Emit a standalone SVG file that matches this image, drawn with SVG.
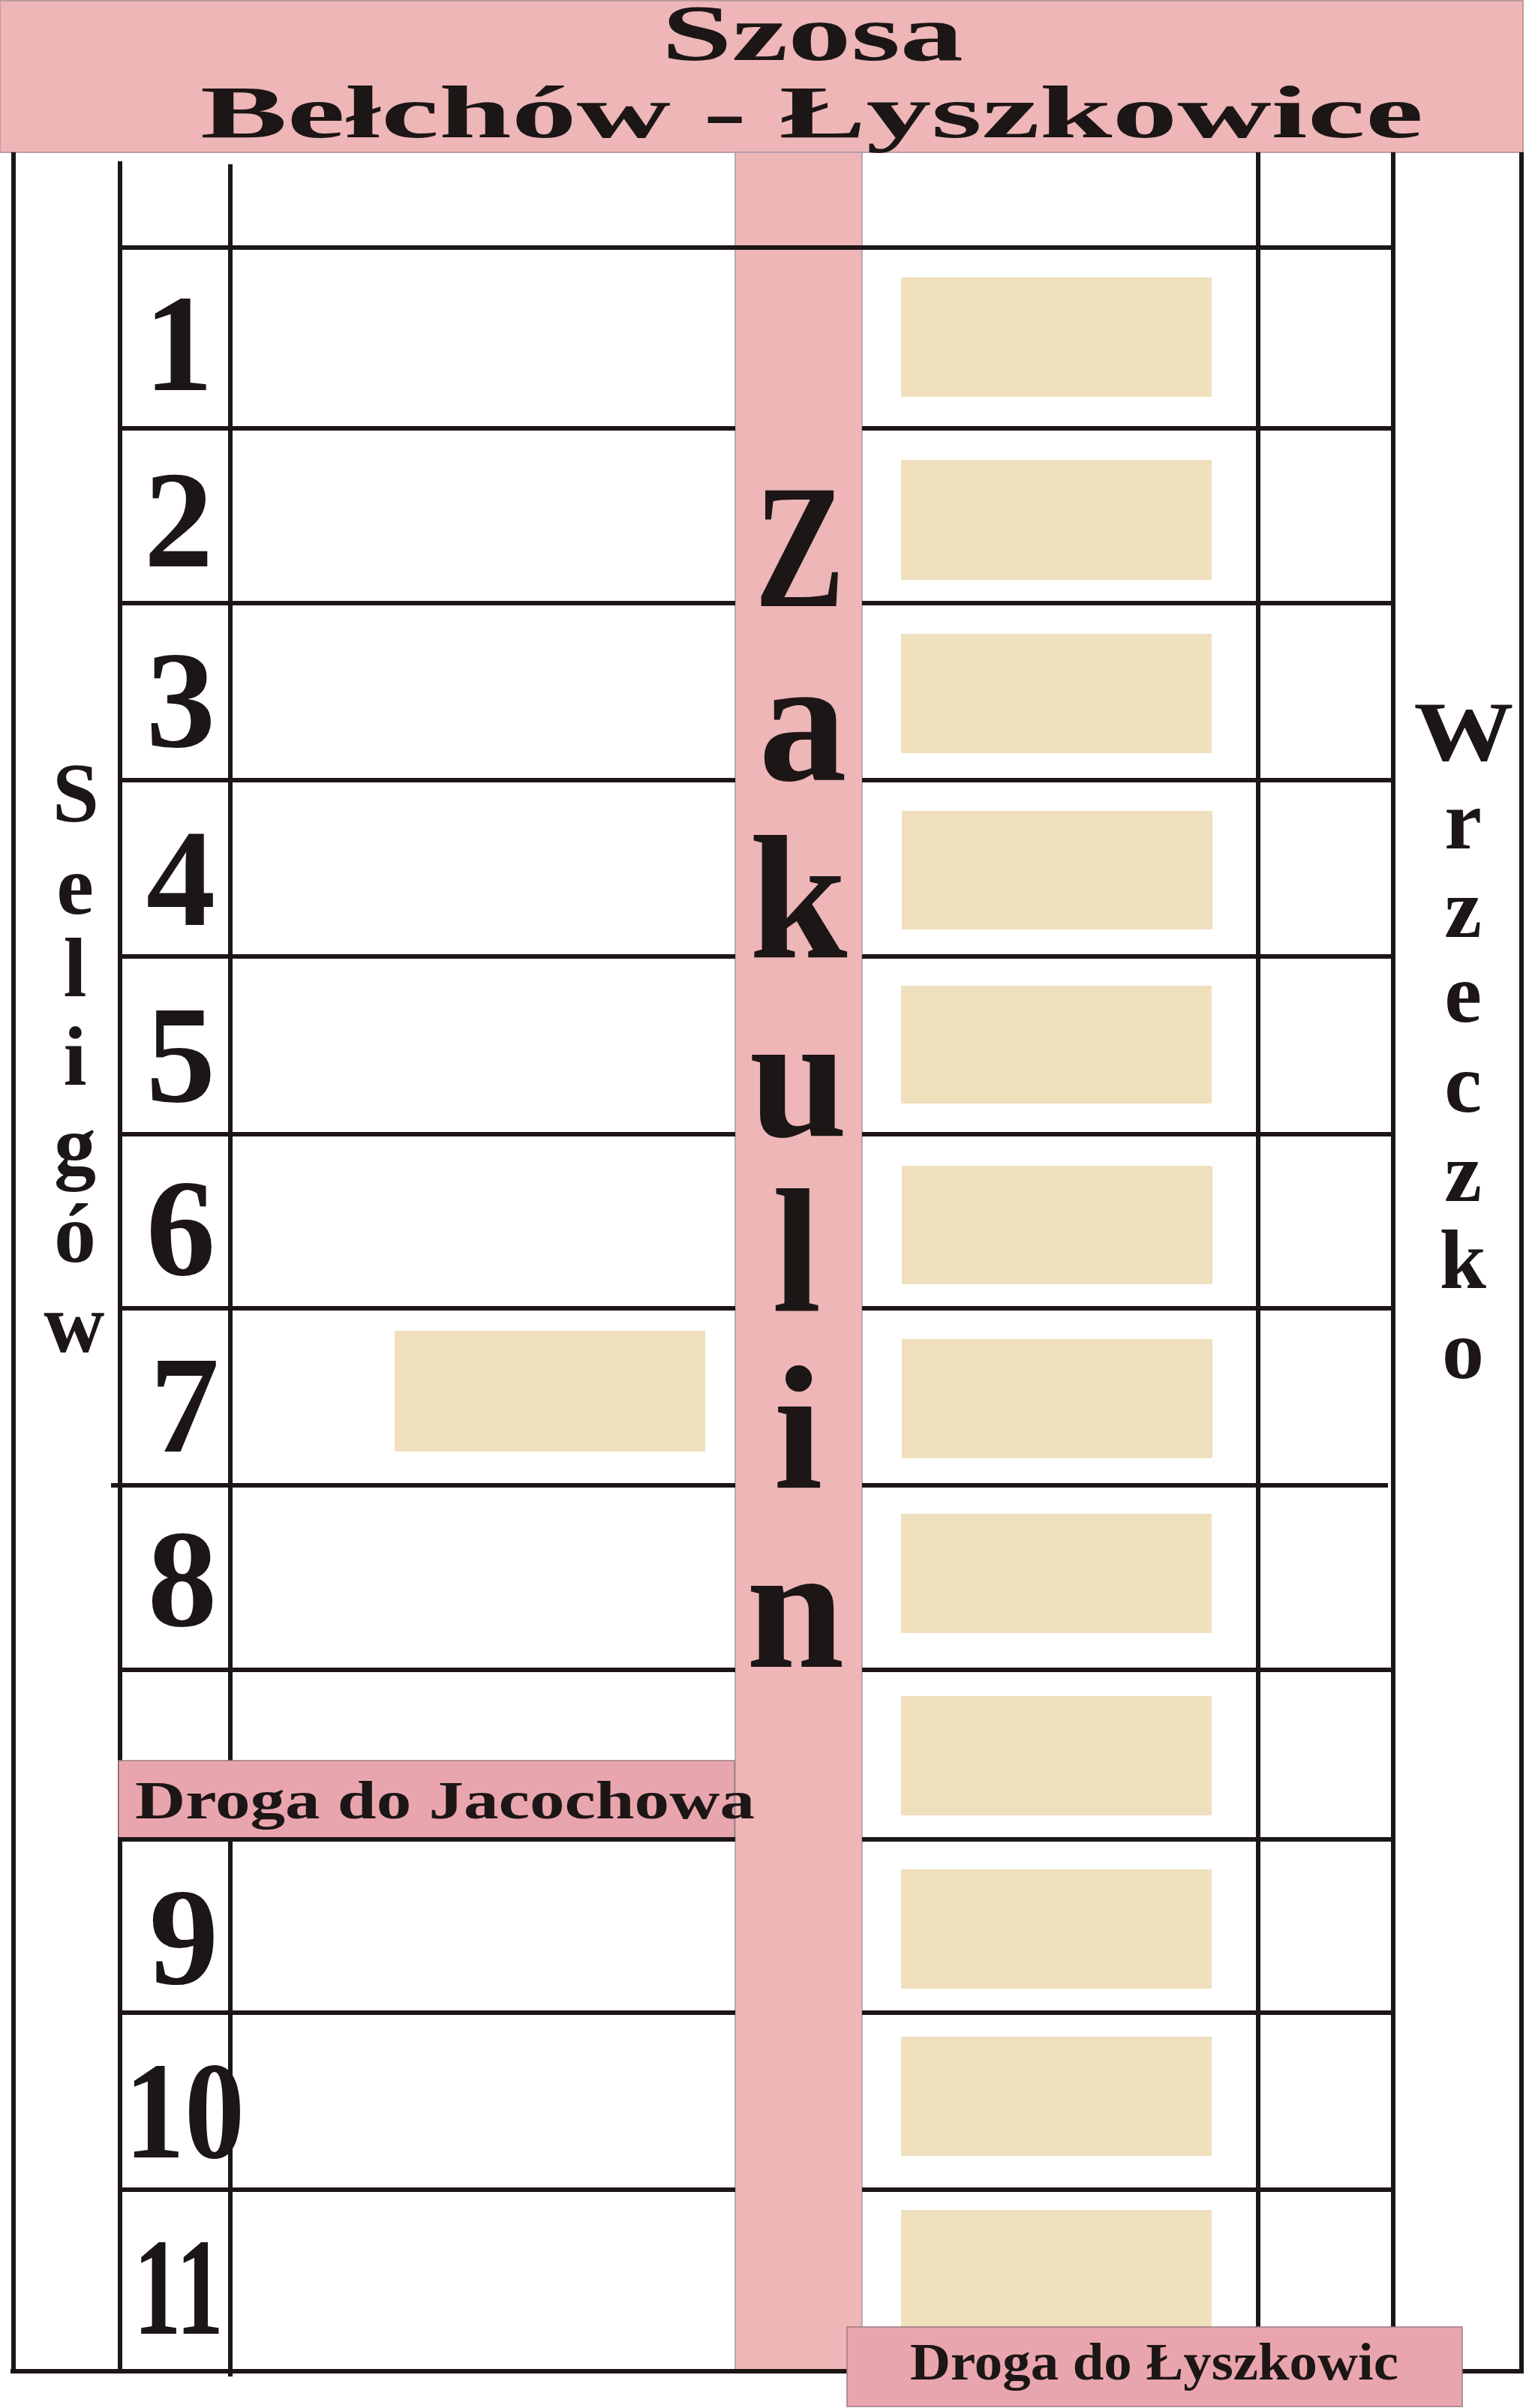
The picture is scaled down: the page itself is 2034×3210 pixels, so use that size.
<svg xmlns="http://www.w3.org/2000/svg" width="2034" height="3210" viewBox="0 0 2034 3210">
<style>
.ln{stroke:#1c1616;stroke-width:6;fill:none}
.pink{fill:#EEB6B7}
.lbl{fill:#E9A5AD;stroke:#9c7a7e;stroke-width:1.5}
.plot{fill:#EFDFBC}
.t{font-family:"Liberation Serif","Times New Roman",serif;font-weight:bold;fill:#1c1616}
.num{font-size:185px;text-anchor:middle}
.zak{font-size:235px;text-anchor:middle}
.side{font-size:112px;text-anchor:middle}
</style>
<rect x="0" y="0" width="2034" height="3210" fill="#ffffff"/>
<g id="header">
<rect x="0" y="1" width="2030" height="202" class="pink" stroke="#c09a9c" stroke-width="2"/>
<text class="t" x="882" y="80" font-size="105" textLength="402" lengthAdjust="spacingAndGlyphs">Szosa</text>
<text class="t" x="267" y="183" font-size="100" textLength="1630" lengthAdjust="spacingAndGlyphs">Bełchów - Łyszkowice</text>
</g>
<g id="road-zakulin">
<rect x="980" y="203" width="169" height="2958" class="pink" stroke="#a899a6" stroke-width="1.5"/>
</g>
<g id="connectors">
<line class="ln" x1="18" y1="203" x2="18" y2="3161"/>
<line class="ln" x1="160" y1="215" x2="160" y2="3161"/>
<line class="ln" x1="307" y1="219" x2="307" y2="3168"/>
<line class="ln" x1="1677" y1="203" x2="1677" y2="3161"/>
<line class="ln" x1="1857" y1="203" x2="1857" y2="3161"/>
<line class="ln" x1="2028" y1="203" x2="2028" y2="3164"/>
</g>
<g id="plots">
<rect class="plot" x="1201" y="370" width="414" height="159"/>
<rect class="plot" x="1201" y="613" width="414" height="160"/>
<rect class="plot" x="1201" y="845" width="414" height="159"/>
<rect class="plot" x="1202" y="1081" width="414" height="158"/>
<rect class="plot" x="1201" y="1314" width="414" height="157"/>
<rect class="plot" x="1202" y="1554" width="414" height="158"/>
<rect class="plot" x="1202" y="1785" width="414" height="159"/>
<rect class="plot" x="1201" y="2018" width="414" height="159"/>
<rect class="plot" x="1201" y="2261" width="414" height="159"/>
<rect class="plot" x="1201" y="2492" width="414" height="159"/>
<rect class="plot" x="1201" y="2715" width="414" height="159"/>
<rect class="plot" x="1201" y="2946" width="414" height="160"/>
<rect class="plot" x="526" y="1774" width="414" height="161"/>
</g>
<g id="label-jacochowa">
<rect class="lbl" x="158" y="2347" width="821" height="105"/>
</g>
<g id="grid-lines">
<line class="ln" x1="157" y1="330" x2="1857" y2="330"/>
<line class="ln" x1="157" y1="571" x2="980" y2="571"/><line class="ln" x1="1149" y1="571" x2="1857" y2="571"/>
<line class="ln" x1="157" y1="804" x2="980" y2="804"/><line class="ln" x1="1149" y1="804" x2="1857" y2="804"/>
<line class="ln" x1="157" y1="1040" x2="980" y2="1040"/><line class="ln" x1="1149" y1="1040" x2="1857" y2="1040"/>
<line class="ln" x1="157" y1="1275" x2="980" y2="1275"/><line class="ln" x1="1149" y1="1275" x2="1857" y2="1275"/>
<line class="ln" x1="157" y1="1512" x2="980" y2="1512"/><line class="ln" x1="1149" y1="1512" x2="1857" y2="1512"/>
<line class="ln" x1="157" y1="1744" x2="980" y2="1744"/><line class="ln" x1="1149" y1="1744" x2="1857" y2="1744"/>
<line class="ln" x1="148" y1="1980" x2="980" y2="1980"/><line class="ln" x1="1149" y1="1980" x2="1850" y2="1980"/>
<line class="ln" x1="157" y1="2226" x2="980" y2="2226"/><line class="ln" x1="1149" y1="2226" x2="1857" y2="2226"/>
<line class="ln" x1="157" y1="2452" x2="980" y2="2452"/><line class="ln" x1="1149" y1="2452" x2="1857" y2="2452"/>
<line class="ln" x1="157" y1="2683" x2="980" y2="2683"/><line class="ln" x1="1149" y1="2683" x2="1857" y2="2683"/>
<line class="ln" x1="157" y1="2919" x2="980" y2="2919"/><line class="ln" x1="1149" y1="2919" x2="1857" y2="2919"/>
<line class="ln" x1="14" y1="3161" x2="2031" y2="3161"/>
</g>
<g id="label-lyszkowic">
<rect class="lbl" x="1129" y="3102" width="820" height="106"/>
<text class="t" x="1213" y="3172" font-size="70" textLength="651" lengthAdjust="spacingAndGlyphs">Droga do Łyszkowic</text>
</g>
<g id="label-jacochowa-text">
<text class="t" x="180" y="2424" font-size="72" textLength="826" lengthAdjust="spacingAndGlyphs">Droga do Jacochowa</text>
</g>
<g id="numbers">
<text class="t num" x="238" y="520">1</text>
<text class="t num" x="238" y="755">2</text>
<text class="t num" x="241" y="995">3</text>
<text class="t num" x="241" y="1233">4</text>
<text class="t num" x="241" y="1468">5</text>
<text class="t num" x="241" y="1699">6</text>
<text class="t num" x="246" y="1935">7</text>
<text class="t num" x="243" y="2167">8</text>
<text class="t num" x="245" y="2644">9</text>
<text class="t num" x="246" y="2876" textLength="160" lengthAdjust="spacingAndGlyphs">10</text>
<text class="t num" x="238" y="3111" textLength="120" lengthAdjust="spacingAndGlyphs">11</text>
</g>
<g id="zakulin">
<text class="t zak" x="1066" y="808" textLength="120" lengthAdjust="spacingAndGlyphs">Z</text>
<text class="t zak" x="1070" y="1040">a</text>
<text class="t zak" x="1064" y="1276">k</text>
<text class="t zak" x="1064" y="1514">u</text>
<text class="t zak" x="1062" y="1747">l</text>
<text class="t zak" x="1064" y="1983">i</text>
<text class="t zak" x="1060" y="2222">n</text>
</g>
<g id="seligow">
<text class="t side" x="101" y="1095">S</text>
<text class="t side" x="100" y="1218">e</text>
<text class="t side" x="100" y="1328">l</text>
<text class="t side" x="100" y="1446">i</text>
<text class="t side" x="100" y="1564">g</text>
<text class="t side" x="100" y="1682">ó</text>
<text class="t side" x="99" y="1802">w</text>
</g>
<g id="wrzeczko">
<text class="t side" x="1951" y="1013" textLength="133" lengthAdjust="spacingAndGlyphs">W</text>
<text class="t side" x="1950" y="1131">r</text>
<text class="t side" x="1950" y="1249">z</text>
<text class="t side" x="1950" y="1362">e</text>
<text class="t side" x="1950" y="1482">c</text>
<text class="t side" x="1950" y="1601">z</text>
<text class="t side" x="1950" y="1717">k</text>
<text class="t side" x="1950" y="1837">o</text>
</g>
</svg>
